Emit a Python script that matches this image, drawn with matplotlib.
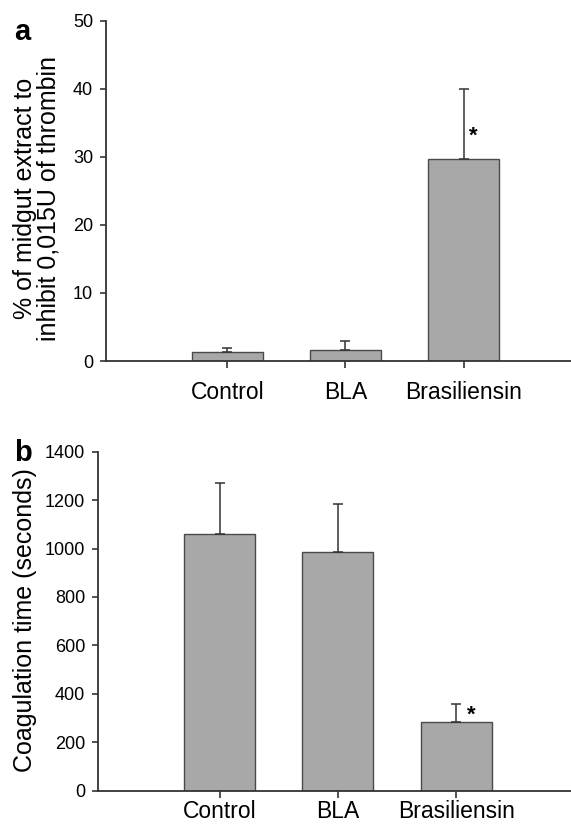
import matplotlib
matplotlib.use("Agg")
import matplotlib.pyplot as plt

plt.rcParams['font.family'] = ['Liberation Sans', 'DejaVu Sans']

categories = ["Control", "BLA", "Brasiliensin"]

# Panel a: % of midgut extract to inhibit 0,015U of thrombin
a_means = [1.3, 1.6, 29.7]
a_err = [0.65, 1.3, 10.2]
a_yticks = [0, 10, 20, 30, 40, 50]

# Panel b: coagulation time (seconds)
b_means = [1060, 985, 285]
b_err = [210, 200, 75]
b_yticks = [0, 200, 400, 600, 800, 1000, 1200, 1400]

BAR_COLOR = "#a8a8a8"
EDGE = "#4a4a4a"
AX_COLOR = "#333333"

fig = plt.figure(figsize=(5.71, 8.30), dpi=100)

def style(ax, ymax, yticks, xlim, xpad):
    for s in ["top", "right"]:
        ax.spines[s].set_visible(False)
    for s in ["left", "bottom"]:
        ax.spines[s].set_color(AX_COLOR)
        ax.spines[s].set_linewidth(1.3)
    ax.set_ylim(0, ymax)
    ax.set_xlim(*xlim)
    ax.set_yticks(yticks)
    ax.set_xticks(range(len(categories)))
    ax.set_xticklabels(categories, fontsize=16.5)
    ax.tick_params(axis='y', direction='out', length=4, width=1.2, color=AX_COLOR,
                   labelsize=13, pad=5)
    ax.tick_params(axis='x', direction='out', length=5, width=1.2, color=AX_COLOR,
                   pad=xpad)

x = list(range(len(categories)))

# Panel a
ax1 = fig.add_axes([0.185, 0.565, 0.815, 0.41])
ax1.bar(x, a_means, width=0.6, color=BAR_COLOR, edgecolor=EDGE, linewidth=1.0, zorder=2)
ax1.errorbar(x, a_means, yerr=[[0] * 3, a_err], fmt='none', ecolor=AX_COLOR,
             elinewidth=1.1, capsize=3.5, capthick=1.1, zorder=3)
style(ax1, 50, a_yticks, (-1.03, 2.91), 9.5)
ax1.text(2 + 0.08, a_means[2] + 3.4, "*", fontsize=16, fontweight='bold',
         ha='center', va='center')
fig.text(0.065, 0.7614, "% of midgut extract to\ninhibit 0,015U of thrombin",
         fontsize=18, rotation=90, ha='center', va='center', linespacing=0.98)
fig.text(0.025, 0.962, "a", fontsize=21, fontweight='bold', ha='left', va='center')

# Panel b
ax2 = fig.add_axes([0.171, 0.0473, 0.829, 0.4085])
ax2.bar(x, b_means, width=0.6, color=BAR_COLOR, edgecolor=EDGE, linewidth=1.0, zorder=2)
ax2.errorbar(x, b_means, yerr=[[0] * 3, b_err], fmt='none', ecolor=AX_COLOR,
             elinewidth=1.1, capsize=3.5, capthick=1.1, zorder=3)
style(ax2, 1400, b_yticks, (-1.03, 2.97), 2)
ax2.text(2 + 0.13, b_means[2] + 28, "*", fontsize=16, fontweight='bold',
         ha='center', va='center')
fig.text(0.043, 0.253, "Coagulation time (seconds)", fontsize=18, rotation=90,
         ha='center', va='center')
fig.text(0.025, 0.454, "b", fontsize=21, fontweight='bold', ha='left', va='center')

fig.savefig("out.png", dpi=100)
